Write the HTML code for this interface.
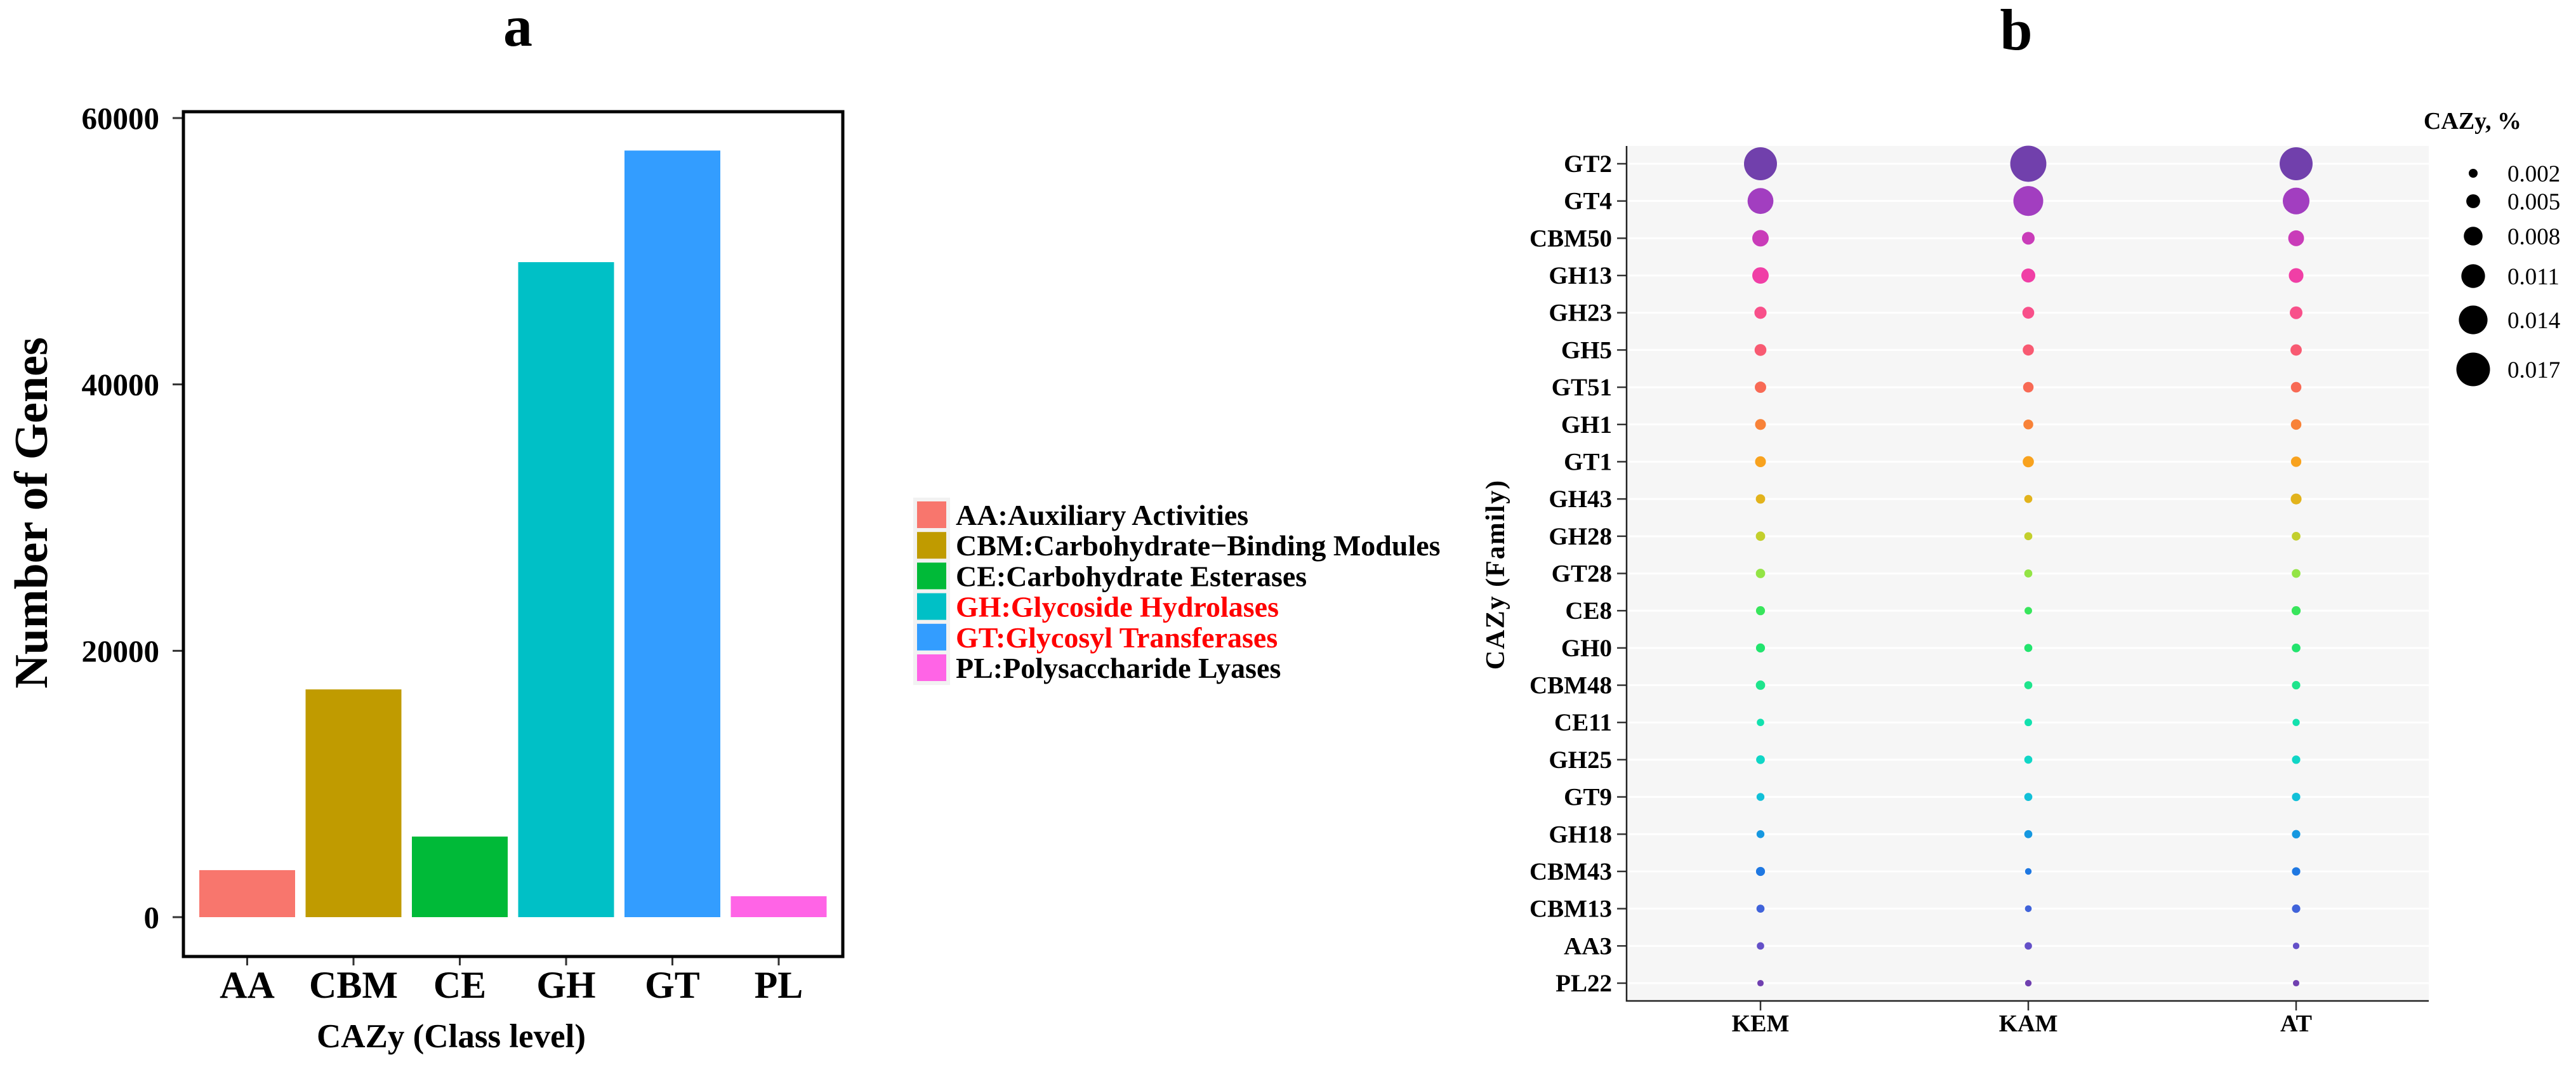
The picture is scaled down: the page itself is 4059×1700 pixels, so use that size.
<!DOCTYPE html>
<html><head><meta charset="utf-8"><style>
html,body{margin:0;padding:0;background:#fff;}
svg{display:block;font-family:"Liberation Serif",serif;}
</style></head><body>
<svg id="fig" width="4059" height="1700" viewBox="0 0 4059 1700" xmlns="http://www.w3.org/2000/svg">
<g id="pa"></g>
<g id="pb"></g>
</svg>
<script>
// Panel a data
const classCats = ["AA","CBM","CE","GH","GT","PL"];
const classCounts = [3530, 17100, 6050, 49180, 57560, 1570];
const classColors = ["#F8766D","#C09B00","#00BA38","#00C0C6","#339DFF","#FF64E6"];
const yTicksA = [0, 20000, 40000, 60000];
const legendLabelsA = ["AA:Auxiliary Activities","CBM:Carbohydrate\u2212Binding Modules","CE:Carbohydrate Esterases","GH:Glycoside Hydrolases","GT:Glycosyl Transferases","PL:Polysaccharide Lyases"];
const legendTextColorsA = ["#000","#000","#000","#f00","#f00","#000"];

// Panel b data
const families = ["GT2","GT4","CBM50","GH13","GH23","GH5","GT51","GH1","GT1","GH43","GH28","GT28","CE8","GH0","CBM48","CE11","GH25","GT9","GH18","CBM43","CBM13","AA3","PL22"];
const groups = ["KEM","KAM","AT"];
const valKEM = [0.0166,0.0123,0.0066,0.0066,0.0040,0.0038,0.0035,0.0032,0.0032,0.0023,0.0023,0.0023,0.0021,0.0021,0.0023,0.0011,0.0019,0.0014,0.0014,0.0021,0.0015,0.0011,0.0005];
const valKAM = [0.0185,0.0147,0.0043,0.0051,0.0038,0.0034,0.0030,0.0026,0.0034,0.0015,0.0015,0.0015,0.0012,0.0015,0.0015,0.0012,0.0015,0.0015,0.0015,0.0006,0.0007,0.0011,0.0006];
const valAT  = [0.0166,0.0128,0.0062,0.0055,0.0043,0.0035,0.0030,0.0030,0.0029,0.0032,0.0019,0.0019,0.0021,0.0019,0.0017,0.0010,0.0017,0.0017,0.0017,0.0017,0.0017,0.0006,0.0005];
const familyColors = ["#7140AC","#A23EC0","#C93CB9","#F03FA6","#F8508A","#F85A72","#F86A55","#F88238","#F8A21E","#E2B31C","#C3CF2C","#93E445","#38E55C","#22E46E","#1EE48C","#12E1AE","#10D6C6","#12C0D8","#1698E0","#1F78E2","#4063DA","#6450C8","#7040B0"];
const sizeBreaks = [0.002,0.005,0.008,0.011,0.014,0.017];
const sizeLabels = ["0.002","0.005","0.008","0.011","0.014","0.017"];

const NS = "http://www.w3.org/2000/svg";
function mk(parent, tag, attrs, text){
  const e = document.createElementNS(NS, tag);
  for (const k in attrs) e.setAttribute(k, attrs[k]);
  if (text !== undefined) e.textContent = text;
  parent.appendChild(e);
  return e;
}
let el;
// ---------- Panel a ----------
const pa = document.getElementById("pa");
const A = {left:289,right:1328,top:176,bottom:1507,y0:1445,y60:186};
const yA = v => A.y0 + (A.y60 - A.y0) * v / 60000;
const barW = 151;

el = mk(pa,"text",{x:816,y:72,"text-anchor":"middle","font-size":92,"font-weight":"bold"},"a");



classCats.forEach((c,i)=>{
  const cx = A.left + 25 + 151/2 + i*167.5;
  el = mk(pa,"rect",{x:cx-barW/2,y:yA(classCounts[i]),width:barW,height:A.y0-yA(classCounts[i]),fill:classColors[i]});
  
  
  el = mk(pa,"line",{x1:cx,x2:cx,y1:A.bottom,y2:A.bottom+14,stroke:"#333","stroke-width":3});
  
  
  el = mk(pa,"text",{x:cx,y:1572,"text-anchor":"middle","font-size":60,"font-weight":"bold"},c);
  
  
});
yTicksA.forEach(t=>{
  el = mk(pa,"line",{x1:A.left-17,x2:A.left,y1:yA(t),y2:yA(t),stroke:"#333","stroke-width":3});
  
  
  el = mk(pa,"text",{x:A.left-38,y:yA(t)+17,"text-anchor":"end","font-size":49,"font-weight":"bold"},String(t));
  
  
});
el = mk(pa,"rect",{x:A.left,y:A.top,width:A.right-A.left,height:A.bottom-A.top,fill:"none",stroke:"#000","stroke-width":5});


el = mk(pa,"text",{x:711,y:1650,"text-anchor":"middle","font-size":53,"font-weight":"bold"},"CAZy (Class level)");


el = mk(pa,"text",{x:0,y:0,"text-anchor":"middle","font-size":74,"font-weight":"bold",transform:"translate(74,808) rotate(-90)"},"Number of Genes");


// legend a
const legTop = 788, legStep = 48.2;
el = mk(pa,"rect",{x:1439,y:legTop-4,width:58,height:legStep*6+6,fill:"#f2f2f2"});


legendLabelsA.forEach((l,i)=>{
  const yy = legTop + i*legStep;
  el = mk(pa,"rect",{x:1445,y:yy+2,width:46,height:42,fill:classColors[i]});
  
  
  el = mk(pa,"text",{x:1506,y:yy+39,"font-size":46,"font-weight":"bold",fill:legendTextColorsA[i]},l);
  
  
});

// ---------- Panel b ----------
const pb = document.getElementById("pb");
const B = {left:2563,right:3827,top:230,bottom:1577};
const yB = i => 258 + i * (1549-258)/22;
const xB = j => 2774 + j * 422;
const dia = v => 8.8 + 2.6 * v * 1000;

el = mk(pb,"text",{x:3177,y:78,"text-anchor":"middle","font-size":92,"font-weight":"bold"},"b");


el = mk(pb,"rect",{x:B.left,y:B.top,width:B.right-B.left,height:B.bottom-B.top,fill:"#f6f6f6"});


families.forEach((f,i)=>{
  el = mk(pb,"line",{x1:B.left,x2:B.right,y1:yB(i),y2:yB(i),stroke:"#fff","stroke-width":3});
  
  
  el = mk(pb,"line",{x1:B.left-15,x2:B.left,y1:yB(i),y2:yB(i),stroke:"#333","stroke-width":2.5});
  
  
  el = mk(pb,"text",{x:B.left-23,y:yB(i)+13,"text-anchor":"end","font-size":39,"font-weight":"bold"},f);
  
  
});
const series = [valKEM, valKAM, valAT];
groups.forEach((g,j)=>{
  el = mk(pb,"line",{x1:xB(j),x2:xB(j),y1:B.bottom,y2:B.bottom+15,stroke:"#333","stroke-width":2.5});
  
  
  el = mk(pb,"text",{x:xB(j),y:1625,"text-anchor":"middle","font-size":38,"font-weight":"bold"},g);
  
  
  series[j].forEach((v,i)=>{
    el = mk(pb,"circle",{cx:xB(j),cy:yB(i),r:dia(v)/2,fill:familyColors[i]});
    
    
  });
});
el = mk(pb,"path",{d:`M${B.left},${B.top} V${B.bottom} H${B.right}`,fill:"none",stroke:"#222","stroke-width":2.5});


el = mk(pb,"text",{x:0,y:0,"text-anchor":"middle","font-size":42,"font-weight":"bold","letter-spacing":2,transform:"translate(2370,905) rotate(-90)"},"CAZy (Family)");


// size legend
el = mk(pb,"text",{x:3896,y:203,"text-anchor":"middle","font-size":38,"font-weight":"bold"},"CAZy, %");


const legY = [273,317,372,435,504,582];
sizeBreaks.forEach((s,k)=>{
  el = mk(pb,"circle",{cx:3897,cy:legY[k],r:dia(s)/2,fill:"#000"});
  
  
  el = mk(pb,"text",{x:3951,y:legY[k]+13,"font-size":37},sizeLabels[k]);
  
  
});
</script>
</body></html>
